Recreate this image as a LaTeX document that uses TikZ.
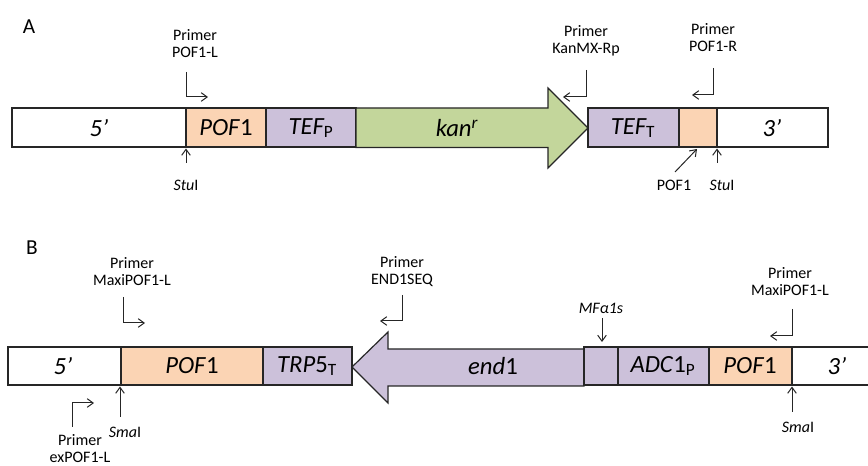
\documentclass[tikz,border=0pt]{standalone}
\usepackage{fontspec}
\setmainfont{Carlito}
\usetikzlibrary{arrows.meta}
\definecolor{orng}{HTML}{FBD4B4}
\definecolor{purp}{HTML}{CCC1DA}
\definecolor{grn}{HTML}{C3D69B}
\tikzset{
  seg/.style={draw=black!85, line width=0.9pt},
  boxtxt/.style={font=\fontsize{18.5}{20}\selectfont\itshape, inner sep=0pt, anchor=center},
  lbl/.style={font=\fontsize{12}{12.75}\selectfont, align=center, inner sep=0pt},
  panel/.style={font=\fontsize{16}{16}\selectfont, inner sep=0pt},
  ptr/.style={draw=black!85, line width=0.75pt, -{Straight Barb[length=4.5pt,width=6.5pt]}}
}
\begin{document}
\begin{tikzpicture}[x=0.75pt,y=-0.75pt]
\useasboundingbox (0,0) rectangle (868,466);
% ---------- Panel A ----------
\node[panel] (A) at (29,27) {A};
\path[seg, fill=white] (12,108) rectangle (186,147);
\path[seg, fill=orng] (186,108) rectangle (266,147);
\path[seg, fill=purp] (266,108) rectangle (356,147);
\path[seg, fill=grn] (356,108) -- (548,108) -- (548,88) -- (588,128) -- (548,168) -- (548,147.5) -- (356,147.5) -- cycle;
\path[seg, fill=purp] (588,108) rectangle (679,147);
\path[seg, fill=orng] (679,108) rectangle (717,147);
\path[seg, fill=white] (717,108) rectangle (828,147);
\node[boxtxt] (a5) at (99,128) {5’};
\node[boxtxt] (apof) at (226,128) {POF\textup{1}};
\node[boxtxt] (atefp) at (311,128) {TEF\textsubscript{\textup{P}}};
\node[boxtxt] (akan) at (457,128) {kan\textsuperscript{r}};
\node[boxtxt] (ateft) at (633,128) {TEF\textsubscript{\textup{T}}};
\node[boxtxt] (a3) at (772,128) {3’};
% primers A
\node[lbl] (pA1) at (195,43.5) {Primer\\POF1-L};
\coordinate (pA1s) at (186,72); \coordinate (pA1e) at (208,97);
\draw[ptr] (pA1s) |- (pA1e);
\node[lbl] (pA2) at (586,41) {Primer\\KanMX-Rp};
\coordinate (pA2s) at (586,70); \coordinate (pA2e) at (563,97);
\draw[ptr] (pA2s) |- (pA2e);
\node[lbl] (pA3) at (713,38) {Primer\\POF1-R};
\coordinate (pA3s) at (713,68); \coordinate (pA3e) at (692,95);
\draw[ptr] (pA3s) |- (pA3e);
% sites A
\node[lbl] (stuA1) at (186,185) {\textit{Stu}I};
\coordinate (stuA1s) at (186,163); \coordinate (stuA1e) at (186,148.5);
\draw[ptr] (stuA1s) -- (stuA1e);
\node[lbl] (stuA2) at (722,185) {\textit{Stu}I};
\coordinate (stuA2s) at (717,163); \coordinate (stuA2e) at (717,148.5);
\draw[ptr] (stuA2s) -- (stuA2e);
\node[lbl] (pofA) at (674,185) {POF1};
\coordinate (pofAs) at (675,172); \coordinate (pofAe) at (697,149);
\draw[ptr] (pofAs) -- (pofAe);
% ---------- Panel B ----------
\node[panel] (B) at (32,248) {B};
\path[seg, fill=white] (8,347) rectangle (121,385);
\path[seg, fill=orng] (121,347) rectangle (263,385);
\path[seg, fill=purp] (263,347) rectangle (352,385);
\path[seg, fill=purp] (352,367) -- (388,332) -- (388,349) -- (584,349) -- (584,386) -- (388,386) -- (388,403) -- cycle;
\path[seg, fill=purp] (584,347) rectangle (618,385);
\draw[line width=1.6pt, black!85] (584,349) -- (584,386);
\path[seg, fill=purp] (618,347) rectangle (709,385);
\path[seg, fill=orng] (709,347) rectangle (792,385);
\fill[white] (792,347) rectangle (868,385);
\draw[seg] (868,347) -- (792,347) -- (792,385) -- (868,385);
\node[boxtxt] (b5) at (63,366) {5’};
\node[boxtxt] (bpof) at (192,366) {POF\textup{1}};
\node[boxtxt] (btrp) at (307,366) {TRP\textup{5}\textsubscript{\textup{T}}};
\node[boxtxt] (bend) at (493,366) {end\textup{1}};
\node[boxtxt] (badc) at (663,366) {ADC\textup{1}\textsubscript{\textup{P}}};
\node[boxtxt] (bpof2) at (750,366) {POF\textup{1}};
\node[boxtxt] (b3) at (837,366) {3’};
% primers B
\node[lbl] (pB1) at (132,271.5) {Primer\\MaxiPOF1-L};
\coordinate (pB1s) at (123,297); \coordinate (pB1e) at (145,323);
\draw[ptr] (pB1s) |- (pB1e);
\node[lbl] (pB2) at (402,271.5) {Primer\\END1SEQ};
\coordinate (pB2s) at (402,295); \coordinate (pB2e) at (380,321);
\draw[ptr] (pB2s) |- (pB2e);
\node[lbl] (pB3) at (790,282) {Primer\\MaxiPOF1-L};
\coordinate (pB3s) at (792,309); \coordinate (pB3e) at (770,336);
\draw[ptr] (pB3s) |- (pB3e);
\node[lbl] (pB4) at (80,448.5) {Primer\\exPOF1-L};
\coordinate (pB4s) at (72,427); \coordinate (pB4e) at (94,403);
\draw[ptr] (pB4s) |- (pB4e);
% sites B
\node[lbl] (smaB1) at (125,432) {\textit{Sma}I};
\coordinate (smaB1s) at (120,417); \coordinate (smaB1e) at (120,386.5);
\draw[ptr] (smaB1s) -- (smaB1e);
\node[lbl] (smaB2) at (798,427) {\textit{Sma}I};
\coordinate (smaB2s) at (792,412); \coordinate (smaB2e) at (792,386.5);
\draw[ptr] (smaB2s) -- (smaB2e);
\node[lbl] (mfa) at (601,308) {\textit{MFα1s}};
\coordinate (mfas) at (602,318); \coordinate (mfae) at (602,342);
\draw[ptr] (mfas) -- (mfae);
\end{tikzpicture}
\end{document}
